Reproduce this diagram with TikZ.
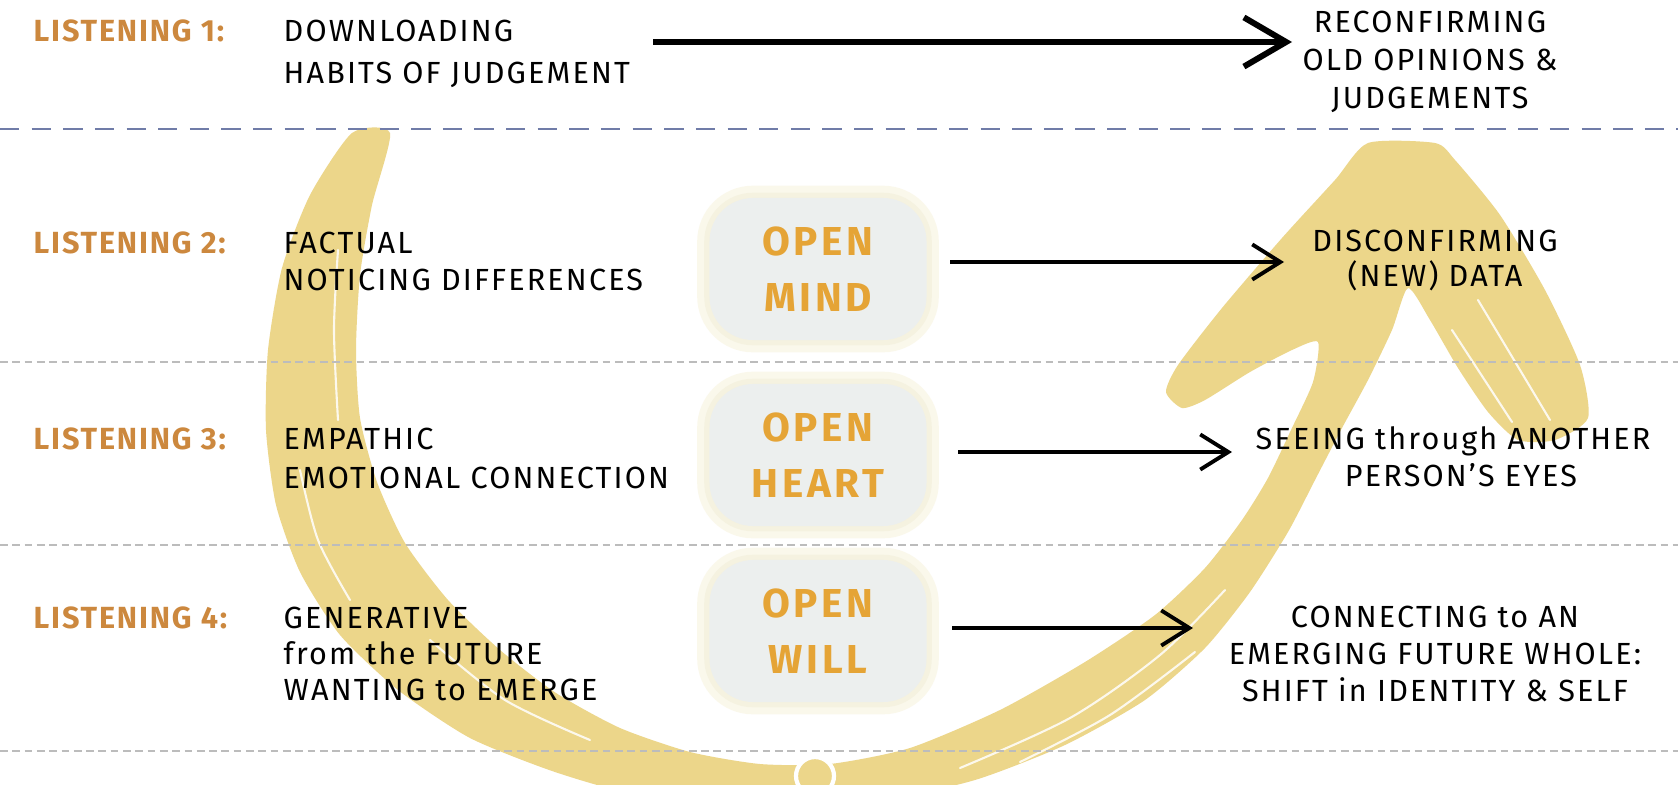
\documentclass[tikz,border=0pt]{standalone}
\usepackage{fontspec}
\setmainfont{Fira Sans}
\newfontfamily\handfont[LetterSpace=7]{Fira Sans}
\newfontfamily\labfont[LetterSpace=6]{Fira Sans}
\newfontfamily\openfont[LetterSpace=9]{Fira Sans}
\usetikzlibrary{arrows.meta}
\definecolor{yel}{RGB}{236,214,138}
\definecolor{labc}{RGB}{204,136,62}
\definecolor{openc}{RGB}{229,164,54}
\definecolor{boxg}{RGB}{236,239,238}
\definecolor{halo}{RGB}{246,240,212}
\definecolor{bluec}{RGB}{112,124,168}
\definecolor{greyc}{RGB}{188,188,188}
\begin{document}
\begin{tikzpicture}[x=0.1mm, y=-0.1mm,
  hand/.style={font=\handfont\fontsize{8.7}{#1}\selectfont, inner sep=0pt, text=black},
  hand/.default=11.5pt,
  lab/.style={font=\labfont\bfseries\fontsize{8.7}{10}\selectfont, inner sep=0pt, text=labc, anchor=north west},
  openbox/.style={rounded corners=4mm, minimum width=21mm, minimum height=13.5mm, fill=boxg,
    preaction={draw=halo, line width=9pt, opacity=0.45},
    preaction={draw=halo!70!boxg, line width=5pt, opacity=0.7},
    preaction={draw=boxg, line width=2pt},
    font=\openfont\bfseries\fontsize{11.5}{16}\selectfont, text=openc, align=center, inner sep=0pt},
  conn/.style={line width=1.1pt, -{Straight Barb[length=8pt, width=10pt, line width=1.1pt]}},
  bigconn/.style={line width=1.7pt, -{Straight Barb[length=12pt, width=14pt, line width=1.7pt]}},
  brush/.style={fill=yel},
  streak/.style={draw=white, line width=0.6pt, opacity=0.85, line cap=round},
  bluedash/.style={draw=bluec, line width=0.6pt, dash pattern=on 5.5pt off 3.5pt},
  greydash/.style={draw=greyc, line width=0.35pt, dash pattern=on 2.2pt off 1.3pt}
]
\useasboundingbox (0,0) rectangle (1678,784);
\clip (0,0) rectangle (1678,784);
\fill[white] (0,0) rectangle (1678,784);

% yellow U-shaped brush arrow
\path[brush] plot[smooth cycle, tension=0.4] coordinates {
 (352,133) (310,195) (282,268) (268,350) (266,430) (276,505) (300,572) (340,635) (398,690) (470,738) (555,772) (640,795)
 (760,800) (880,800) (975,780) (1065,745) (1145,700) (1205,648) (1250,592) (1288,532) (1315,480) (1342,428) (1368,380) (1392,330) (1408,288)
 (1430,320) (1458,368) (1488,412) (1518,440) (1555,440) (1588,418)
 (1580,365) (1545,290) (1500,215) (1455,160) (1435,143) (1368,143) (1335,180) (1282,238) (1222,308) (1178,365) (1166,392) (1182,408) (1205,400) (1250,372) (1292,350) (1318,342)
 (1313,382) (1291,430) (1268,478) (1242,520) (1205,568) (1155,615) (1085,662) (1000,710) (910,748) (830,764) (760,764) (690,752) (620,728) (556,693) (500,650) (448,600) (405,543) (377,482) (360,418) (356,350) (360,275) (372,205) (390,133)};
\draw[white, line width=1.2pt, fill=yel] (815,776) circle (19);
\draw[streak] plot[smooth] coordinates {(338,250) (334,330) (338,420)};
\draw[streak] plot[smooth] coordinates {(300,470) (318,540) (350,600)};
\draw[streak] plot[smooth] coordinates {(430,640) (505,700) (590,740)};
\draw[streak] plot[smooth] coordinates {(960,768) (1070,718) (1160,655) (1225,590)};
\draw[streak] plot[smooth] coordinates {(1020,762) (1110,715) (1195,652)};
\draw[streak] (1452,330) -- (1512,422);
\draw[streak] (1478,300) -- (1550,420);

% separator lines
\draw[bluedash] (0,129) -- (1678,129);
\draw[greydash] (0,362) -- (1678,362);
\draw[greydash] (0,545) -- (1678,545);
\draw[greydash] (0,751) -- (1678,751);

% labels
\node[lab] (l1) at (33,19.5) {LISTENING 1:};
\node[lab] (l2) at (33,231.5) {LISTENING 2:};
\node[lab] (l3) at (33,427.5) {LISTENING 3:};
\node[lab] (l4) at (33,606.5) {LISTENING 4:};

% left descriptions
\node[hand=12pt, anchor=north west, align=left] (d1) at (283,19.5) {DOWNLOADING\\HABITS OF JUDGEMENT};
\node[hand=10.4pt, anchor=north west, align=left] (d2) at (283,231.5) {FACTUAL\\NOTICING DIFFERENCES};
\node[hand=11.1pt, anchor=north west, align=left] (d3) at (283,427.5) {EMPATHIC\\EMOTIONAL CONNECTION};
\node[hand=10.2pt, anchor=north west, align=left] (d4) at (283,606.5) {GENERATIVE\\from the FUTURE\\WANTING to EMERGE};

% open boxes
\node[openbox] (mind) at (818,269) {OPEN\\MIND};
\node[openbox] (heart) at (818,455) {OPEN\\HEART};
\node[openbox] (will) at (818,631) {OPEN\\WILL};

% right results
\node[hand=10.8pt, anchor=north, align=center] (r1) at (1430,10.5) {RECONFIRMING\\OLD OPINIONS \&\\JUDGEMENTS};
\node[hand=10pt, anchor=north, align=center] (r2) at (1435,229.5) {DISCONFIRMING\\(NEW) DATA};
\node[hand, anchor=north west] (r3a) at (1255,425.5) {SEEING through ANOTHER};
\node[hand, anchor=north] (r3b) at (1461,462.5) {PERSON’S EYES};
\node[hand=10.5pt, anchor=north, align=center] (r4) at (1435,605.5) {CONNECTING to AN\\EMERGING FUTURE WHOLE:\\SHIFT in IDENTITY \& SELF};

% connectors
\coordinate (a1s) at (653,42);
\coordinate (a1e) at (1292,42);
\draw[bigconn] (a1s) -- (a1e);
\coordinate (a2s) at (950,262);
\coordinate (a2e) at (1284,262);
\draw[conn] (a2s) -- (a2e);
\coordinate (a3s) at (958,452);
\coordinate (a3e) at (1232,452);
\draw[conn] (a3s) -- (a3e);
\coordinate (a4s) at (952,628);
\coordinate (a4e) at (1193,628);
\draw[conn] (a4s) -- (a4e);
\end{tikzpicture}
\end{document}
